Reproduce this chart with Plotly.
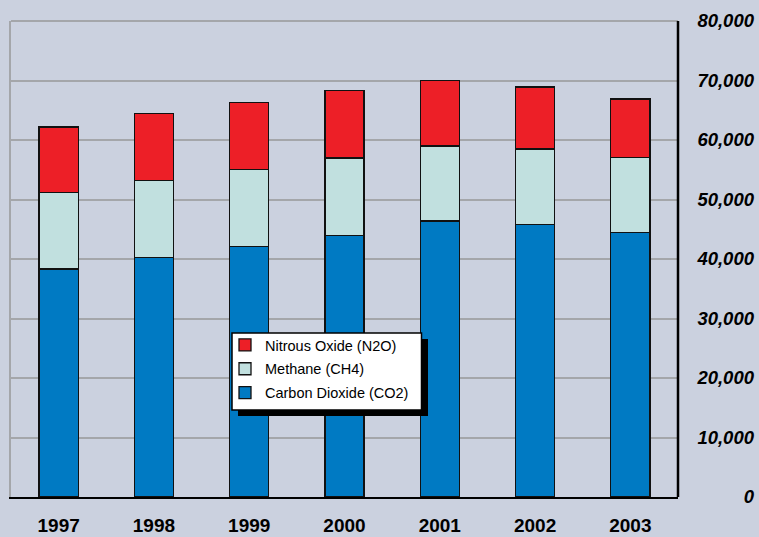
import plotly.graph_objects as go

years = ["1997", "1998", "1999", "2000", "2001", "2002", "2003"]
co2 = [38300, 40200, 42100, 44000, 46400, 45800, 44400]
ch4 = [12900, 13000, 12900, 13000, 12600, 12700, 12700]
n2o = [11000, 11200, 11300, 11300, 11000, 10400, 9800]
y_ticks = [0, 10000, 20000, 30000, 40000, 50000, 60000, 70000, 80000]

BG = "#CBD1DF"
GRID = "#A4A6AA"
W, H = 759, 537
ML, MR, MT, MB = 11, 0, 21, 40
PW, PH = W - ML - MR, H - MT - MB

def px_x(p):
    return (p - ML) / PW

def px_y(p):
    return (H - MB - p) / PH

fig = go.Figure()
series = [
    ("Carbon Dioxide (CO2)", co2, "#007AC3", 3),
    ("Methane (CH4)", ch4, "#C1E0DF", 2),
    ("Nitrous Oxide (N2O)", n2o, "#ED1F27", 1),
]
for name, vals, col, rank in series:
    fig.add_trace(go.Bar(
        x=years, y=vals, name=name, legendgroup=name, legendrank=rank,
        marker=dict(color=col, line=dict(color="#111111", width=1.3)),
        width=0.41,
    ))

# invisible helper trace so the label axis renders
fig.add_trace(go.Scatter(x=years, y=co2, yaxis="y2", mode="markers",
                         marker=dict(opacity=0), showlegend=False, hoverinfo="skip"))

x_end = px_x(678)
FONT = "Liberation Sans, Arial, sans-serif"

fig.update_layout(
    width=W, height=H,
    margin=dict(l=ML, r=MR, t=MT, b=MB, pad=0, autoexpand=False),
    paper_bgcolor=BG, plot_bgcolor=BG,
    barmode="stack",
    showlegend=True,
    legend=dict(
        x=px_x(225), y=px_y(329), xanchor="left", yanchor="top",
        bgcolor="rgba(0,0,0,0)", borderwidth=0,
        font=dict(family=FONT, size=14.5, color="black"),
        traceorder="grouped", tracegroupgap=2,
        itemwidth=30,
    ),
    xaxis=dict(
        domain=[0, x_end], automargin=False,
        showgrid=False, showline=True, linecolor="black", linewidth=2,
        ticks="", ticklabelstandoff=10,
        tickfont=dict(family=FONT, size=19, weight="bold", color="black"),
    ),
    yaxis=dict(
        range=[0, 80000], tickvals=y_ticks, showticklabels=False, automargin=False,
        showgrid=True, gridcolor=GRID, gridwidth=2,
        showline=True, linecolor=GRID, linewidth=2, zeroline=False,
    ),
    yaxis2=dict(
        overlaying="y", side="left", anchor="free", position=1 - 5 / PW, automargin=False,
        range=[-20, 80000], tickvals=y_ticks, tickformat=",",
        showgrid=False, showline=False, zeroline=False, ticks="",
        tickfont=dict(family=FONT, size=18.5, weight="bold", style="italic", color="black"),
    ),
    shapes=[
        dict(type="line", xref="x domain", yref="y domain", x0=1, x1=1, y0=0, y1=1,
             line=dict(color="black", width=2.5), layer="above"),
        dict(type="line", xref="x domain", yref="y domain", x0=0, x1=1, y0=1, y1=1,
             line=dict(color=GRID, width=2), layer="below"),
        dict(type="rect", xref="paper", yref="paper",
             x0=px_x(238), x1=px_x(428), y0=px_y(416), y1=px_y(339),
             fillcolor="black", line=dict(width=0), layer="above"),
        dict(type="rect", xref="paper", yref="paper",
             x0=px_x(232), x1=px_x(421.5), y0=px_y(410), y1=px_y(333),
             fillcolor="white", line=dict(color="black", width=1.5), layer="above"),
    ],
)

fig.write_html("out.html", config={"displayModeBar": False},
               post_script="document.body.style.margin='0';")
